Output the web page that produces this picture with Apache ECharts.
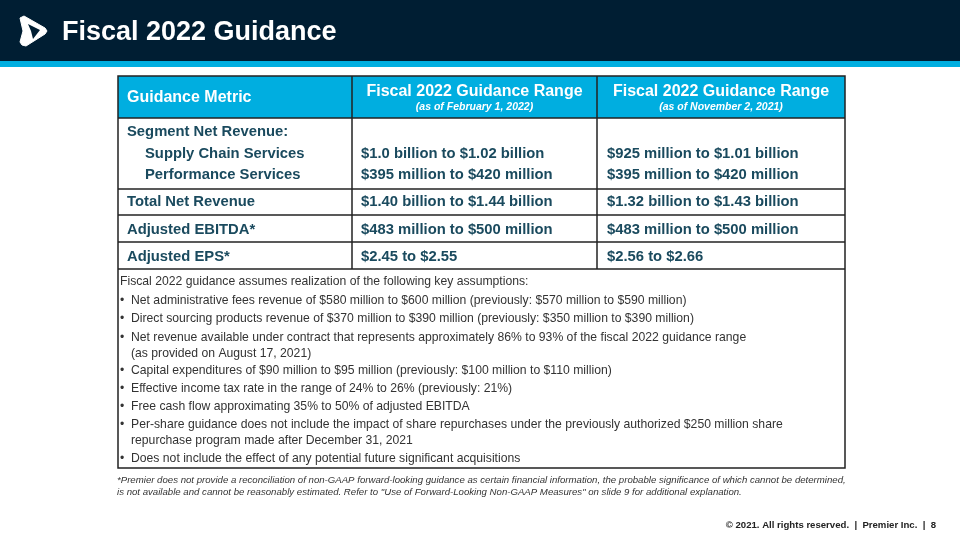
<!DOCTYPE html>
<html><head><meta charset="utf-8">
<script src="https://cdn.jsdelivr.net/npm/echarts@6/dist/echarts.min.js"></script>
<style>html,body{margin:0;padding:0;background:#fff}#c{width:960px;height:540px}</style>
</head><body><div id="c"></div>
<script>
const title = "Fiscal 2022 Guidance";
const headers = ["Guidance Metric", "Fiscal 2022 Guidance Range", "Fiscal 2022 Guidance Range"];
const subHeaders = ["", "(as of February 1, 2022)", "(as of November 2, 2021)"];
const metrics = ["Segment Net Revenue:", "Supply Chain Services", "Performance Services", "Total Net Revenue", "Adjusted EBITDA*", "Adjusted EPS*"];
const indented = [false, true, true, false, false, false];
const rangeFeb = ["", "$1.0 billion to $1.02 billion", "$395 million to $420 million", "$1.40 billion to $1.44 billion", "$483 million to $500 million", "$2.45 to $2.55"];
const rangeNov = ["", "$925 million to $1.01 billion", "$395 million to $420 million", "$1.32 billion to $1.43 billion", "$483 million to $500 million", "$2.56 to $2.66"];
const assumptionsIntro = "Fiscal 2022 guidance assumes realization of the following key assumptions:";
const assumptions = [
  ["Net administrative fees revenue of $580 million to $600 million (previously: $570 million to $590 million)"],
  ["Direct sourcing products revenue of $370 million to $390 million (previously: $350 million to $390 million)"],
  ["Net revenue available under contract that represents approximately 86% to 93% of the fiscal 2022 guidance range", "(as provided on August 17, 2021)"],
  ["Capital expenditures of $90 million to $95 million (previously: $100 million to $110 million)"],
  ["Effective income tax rate in the range of 24% to 26% (previously: 21%)"],
  ["Free cash flow approximating 35% to 50% of adjusted EBITDA"],
  ["Per-share guidance does not include the impact of share repurchases under the previously authorized $250 million share", "repurchase program made after December 31, 2021"],
  ["Does not include the effect of any potential future significant acquisitions"]
];
const footnote = ["*Premier does not provide a reconciliation of non-GAAP forward-looking guidance as certain financial information, the probable significance of which cannot be determined,",
  "is not available and cannot be reasonably estimated. Refer to \"Use of Forward-Looking Non-GAAP Measures\" on slide 9 for additional explanation."];
const footer = "\u00A9 2021. All rights reserved.  |  Premier Inc.  |  8";

const F = "'Liberation Sans', Arial, sans-serif";
const NAVY = "#001e33", CYAN = "#00aee0", BODY = "#1a4a5e", GRAY = "#333333", BORDER = "#222";
const L = 118, R = 845, C1 = 352, C2 = 597;
const yHead = 76, yHeadB = 118;
const rowY = [132, 154, 175, 202, 230, 257];
const rowLines = [189, 215, 242, 269];
const bottom = 468;

const g = [];
g.push({type:'rect', shape:{x:0,y:0,width:960,height:61}, style:{fill:NAVY}});
g.push({type:'rect', shape:{x:0,y:61,width:960,height:6}, style:{fill:CYAN}});
// logo
g.push({type:'polygon', shape:{points:[[20,18],[24,16],[45,28],[47,31],[45,34],[26,46],[22,45],[20,42],[23,31]]}, style:{fill:'#fff', stroke:'#fff', lineWidth:1, lineJoin:'round'}});
g.push({type:'polygon', shape:{points:[[28,24],[40,30],[33,39],[31,31]]}, style:{fill:NAVY}});
g.push({type:'text', style:{text:title, x:62, y:33, fill:'#fff', font:"bold 27px "+F, textVerticalAlign:'middle'}});
// header
g.push({type:'rect', shape:{x:L,y:yHead,width:R-L,height:yHeadB-yHead}, style:{fill:CYAN}});
g.push({type:'text', style:{text:headers[0], x:127, y:98, fill:'#fff', font:"bold 16px "+F, textVerticalAlign:'middle'}});
[[C1,C2],[C2,R]].forEach((c,i)=>{
  const cx=(c[0]+c[1])/2;
  g.push({type:'text', style:{text:headers[i+1], x:cx, y:92, fill:'#fff', font:"bold 16px "+F, textAlign:'center', textVerticalAlign:'middle'}});
  g.push({type:'text', style:{text:subHeaders[i+1], x:cx, y:107, fill:'#fff', font:"italic bold 10.5px "+F, textAlign:'center', textVerticalAlign:'middle'}});
});
// rows
metrics.forEach((m,i)=>{
  g.push({type:'text', style:{text:m, x: indented[i]?145:127, y:rowY[i], fill:BODY, font:"bold 14.8px "+F, textVerticalAlign:'middle'}});
  if(rangeFeb[i]) g.push({type:'text', style:{text:rangeFeb[i], x:361, y:rowY[i], fill:BODY, font:"bold 14.8px "+F, textVerticalAlign:'middle'}});
  if(rangeNov[i]) g.push({type:'text', style:{text:rangeNov[i], x:607, y:rowY[i], fill:BODY, font:"bold 14.8px "+F, textVerticalAlign:'middle'}});
});
// assumptions
const AF = "12.2px "+F;
g.push({type:'text', style:{text:assumptionsIntro, x:120, y:282, fill:GRAY, font:AF, textVerticalAlign:'middle'}});
const aY = [301, 319, 338, 371, 389, 407, 425, 459];
assumptions.forEach((a,i)=>{
  g.push({type:'text', style:{text:"\u2022", x:120, y:aY[i], fill:GRAY, font:AF, textVerticalAlign:'middle'}});
  a.forEach((line,j)=>{
    g.push({type:'text', style:{text:line, x:131, y:aY[i]+j*15.5, fill:GRAY, font:AF, textVerticalAlign:'middle'}});
  });
});
// lines
const ls = {stroke:BORDER, lineWidth:1.5};
rowLines.forEach(y=>g.push({type:'line', shape:{x1:L,y1:y,x2:R,y2:y}, style:ls}));
g.push({type:'line', shape:{x1:C1,y1:yHead,x2:C1,y2:rowLines[3]}, style:ls});
g.push({type:'line', shape:{x1:C2,y1:yHead,x2:C2,y2:rowLines[3]}, style:ls});
g.push({type:'rect', shape:{x:L,y:yHead,width:R-L,height:bottom-yHead}, style:{fill:null, stroke:BORDER, lineWidth:1.5}});
g.push({type:'line', shape:{x1:L,y1:yHeadB,x2:R,y2:yHeadB}, style:ls});
// footnote
footnote.forEach((t,i)=>g.push({type:'text', style:{text:t, x:117, y:480+i*12, fill:GRAY, font:"italic 9.65px "+F, textVerticalAlign:'middle'}}));
g.push({type:'text', style:{text:footer, x:936, y:525, fill:'#222', font:"bold 9.6px "+F, textAlign:'right', textVerticalAlign:'middle'}});

const chart = echarts.init(document.getElementById('c'), null, {renderer:'canvas'});
chart.setOption({animation:false, graphic:{elements:g}});
</script></body></html>
